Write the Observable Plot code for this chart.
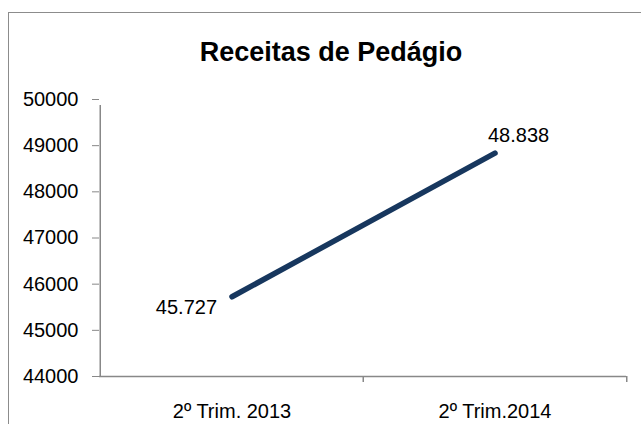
<!DOCTYPE html>
<html><head><meta charset="utf-8">
<script src="https://cdn.jsdelivr.net/npm/d3@7"></script>
<script src="https://cdn.jsdelivr.net/npm/@observablehq/plot@0.6"></script>
<style>
body{margin:0;background:#fff;}
#wrap{position:relative;width:641px;height:424px;overflow:hidden;font-family:"Liberation Sans",Arial,sans-serif;}
#frame{position:absolute;left:8px;top:12px;width:700px;height:500px;border:1.5px solid #8c8c8c;box-sizing:border-box;}
#title{position:absolute;left:0;width:662px;top:37px;text-align:center;font-weight:bold;font-size:27px;line-height:30px;color:#000;}
#chart{position:absolute;left:0;top:0;}
g[aria-label="y-axis tick"] path, g[aria-label="y-axis tick"]{stroke:#888;}
</style></head><body>
<div id="wrap"><div id="frame"></div><div id="title">Receitas de Pedágio</div><div id="chart"></div></div>
<script>
const categories = ["2º Trim. 2013", "2º Trim.2014"];
const values = [45727, 48838];
const valueLabels = ["45.727", "48.838"];
const yTicks = [44000, 45000, 46000, 47000, 48000, 49000, 50000];
const yDomain = [44000, 50000];

const data = categories.map((c, i) => ({cat: c, value: values[i], label: valueLabels[i]}));

const W = 641, H = 424, mL = 99, mR = 15, mT = 99, mB = 48;
const step = (W - mL - mR) / categories.length;
const gray = "#888";
const navy = "#17375E";

const plot = Plot.plot({
  width: W, height: H,
  marginLeft: mL, marginRight: mR, marginTop: mT, marginBottom: mB,
  style: {fontFamily: '"Liberation Sans", Arial, sans-serif', fontSize: "20px", color: "#000", background: "transparent", overflow: "visible"},
  x: {type: "band", domain: categories, padding: 0, label: null, tickSize: 0, tickPadding: 27},
  y: {domain: yDomain, ticks: yTicks, tickFormat: d => String(d), label: null, tickSize: 7, tickPadding: 14},
  marks: [
    Plot.ruleY([yDomain[0]], {stroke: gray, strokeWidth: 1.5}),
    Plot.ruleX([categories[0]], {x: d => d, dx: -step / 2, y1: yDomain[0], y2: yDomain[1], stroke: gray, strokeWidth: 1.5, insetBottom: -6}),
    Plot.ruleX(categories.slice(1), {x: d => d, dx: -step / 2, y1: yDomain[0], y2: yDomain[0], stroke: gray, strokeWidth: 1.5, insetBottom: -6}),
    Plot.ruleX(categories.slice(-1), {x: d => d, dx: step / 2, y1: yDomain[0], y2: yDomain[0], stroke: gray, strokeWidth: 1.5, insetBottom: -6}),
    Plot.line(data, {x: "cat", y: "value", stroke: navy, strokeWidth: 5.5, strokeLinecap: "round"}),
    Plot.text(data.slice(0, 1), {x: "cat", y: "value", text: "label", textAnchor: "end", dx: -15, dy: 11, fill: "#000"}),
    Plot.text(data.slice(1), {x: "cat", y: "value", text: "label", textAnchor: "start", dx: -7, dy: -18, fill: "#000"})
  ]
});
document.getElementById("chart").appendChild(plot);
</script>
</body></html>
